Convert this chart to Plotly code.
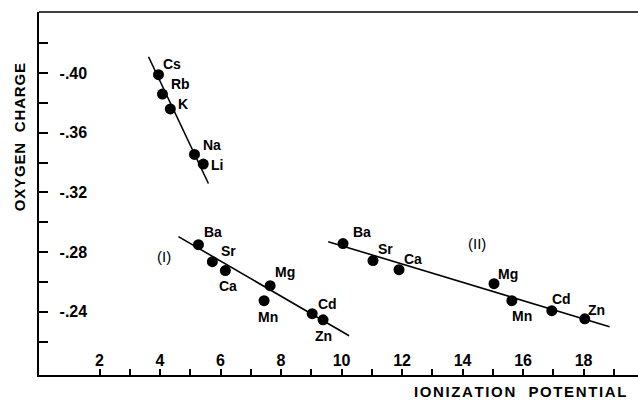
import plotly.graph_objects as go

# ---- data ----
alk_names = ["Cs", "Rb", "K", "Na", "Li"]
alk_ip = [3.95, 4.08, 4.34, 5.14, 5.43]
alk_q = [-0.399, -0.386, -0.376, -0.3455, -0.339]
alk_fit_x = [3.62, 5.60]
alk_fit_y = [-0.411, -0.326]

g1_names = ["Ba", "Sr", "Ca", "Mg", "Mn", "Cd", "Zn"]
g1_ip = [5.27, 5.73, 6.16, 7.64, 7.44, 9.03, 9.39]
g1_q = [-0.285, -0.2736, -0.2676, -0.2575, -0.2474, -0.2387, -0.2346]
g1_fit_x = [4.61, 10.25]
g1_fit_y = [-0.2904, -0.2239]

g2_names = ["Ba", "Sr", "Ca", "Mg", "Mn", "Cd", "Zn"]
g2_ip = [10.05, 11.04, 11.90, 15.04, 15.63, 16.95, 18.04]
g2_q = [-0.2857, -0.2743, -0.2682, -0.2588, -0.2474, -0.2407, -0.2353]
g2_fit_x = [9.56, 18.86]
g2_fit_y = [-0.287, -0.2299]

y_tickvals = [-0.40, -0.36, -0.32, -0.28, -0.24]
y_ticktext = ["-.40", "-.36", "-.32", "-.28", "-.24"]
x_tickvals = [2, 4, 6, 8, 10, 12, 14, 16, 18]

# label offsets (pixels: dx right, dy down)
alk_off = [(13, -11), (18, -10), (13, -5), (17, -9), (14, 1)]
g1_off = [(15, -13), (16, -11), (3, 15), (15, -14), (4, 16), (15, -10), (0, 16)]
g2_off = [(19, -12), (13, -12), (14, -11), (14, -10), (10, 15), (10, -12), (12, -9)]

FONT = "Liberation Sans"


def spaced(s, px):
    gap = "<span style='font-size:%dpx'>\u2009</span>" % px
    return gap.join(s.replace(" ", "  "))


fig = go.Figure()

for fx, fy in [(alk_fit_x, alk_fit_y), (g1_fit_x, g1_fit_y), (g2_fit_x, g2_fit_y)]:
    fig.add_trace(go.Scatter(x=fx, y=fy, mode="lines",
                             line=dict(color="black", width=1.6),
                             showlegend=False, hoverinfo="skip"))

for xs, ys in [(alk_ip, alk_q), (g1_ip, g1_q), (g2_ip, g2_q)]:
    fig.add_trace(go.Scatter(x=xs, y=ys, mode="markers",
                             marker=dict(color="black", size=11),
                             showlegend=False))

anns = []
for names, xs, ys, offs in [(alk_names, alk_ip, alk_q, alk_off),
                            (g1_names, g1_ip, g1_q, g1_off),
                            (g2_names, g2_ip, g2_q, g2_off)]:
    for n, x, y, (dx, dy) in zip(names, xs, ys, offs):
        anns.append(dict(x=x, y=y, xref="x", yref="y", text=n, showarrow=False,
                         xshift=dx, yshift=-dy,
                         font=dict(family=FONT, size=14, color="black", weight="bold")))

anns.append(dict(x=g1_ip[0], y=g1_q[0], xref="x", yref="y", text="(I)",
                 showarrow=False, xshift=-34, yshift=-12,
                 font=dict(family=FONT, size=15, color="black")))
anns.append(dict(x=g2_ip[3], y=g2_q[3], xref="x", yref="y", text="(II)",
                 showarrow=False, xshift=-17, yshift=40,
                 font=dict(family=FONT, size=15, color="black")))

anns.append(dict(x=0, y=0.655, xref="paper", yref="paper", text=spaced("OXYGEN CHARGE", 4),
                 textangle=-90, showarrow=False, xanchor="center", yanchor="middle",
                 xshift=-20,
                 font=dict(family=FONT, size=15, color="black", weight="bold")))
anns.append(dict(x=0.803, y=0, xref="paper", yref="paper", text=spaced("IONIZATION POTENTIAL", 8),
                 showarrow=False, xanchor="center", yanchor="middle", yshift=-16,
                 font=dict(family=FONT, size=15, color="black", weight="bold")))

fig.update_layout(
    width=638, height=400,
    margin=dict(l=39, r=0, t=12, b=25),
    paper_bgcolor="white", plot_bgcolor="white",
    annotations=anns,
    font=dict(family=FONT, color="black"),
    xaxis=dict(range=[0, 19.8], showgrid=False, zeroline=False,
               showline=True, linecolor="black", linewidth=1.5, mirror=False,
               tickmode="array", tickvals=x_tickvals,
               ticks="inside", ticklen=6, tickwidth=1.5, tickcolor="black",
               ticklabelposition="inside",
               tickfont=dict(family=FONT, size=16, color="black", weight="bold"),
               minor=dict(dtick=1, tick0=0, ticks="inside", ticklen=6,
                          tickwidth=1.5, tickcolor="black")),
    yaxis=dict(range=[-0.1976, -0.441], showgrid=False, zeroline=False,
               showline=True, linecolor="black", linewidth=1.5,
               tickmode="array", tickvals=y_tickvals, ticktext=y_ticktext,
               ticks="inside", ticklen=9, tickwidth=1.5, tickcolor="black",
               ticklabelposition="inside", ticklabelstandoff=12,
               tickfont=dict(family=FONT, size=16, color="black", weight="bold"),
               minor=dict(tickvals=[-0.42, -0.38, -0.34, -0.30, -0.26, -0.22],
                          ticks="inside", ticklen=9, tickwidth=1.5, tickcolor="black")),
    shapes=[dict(type="line", xref="paper", yref="paper", x0=0, x1=1, y0=1, y1=1,
                 line=dict(color="black", width=1.5))],
)

fig.write_html("out.html")
